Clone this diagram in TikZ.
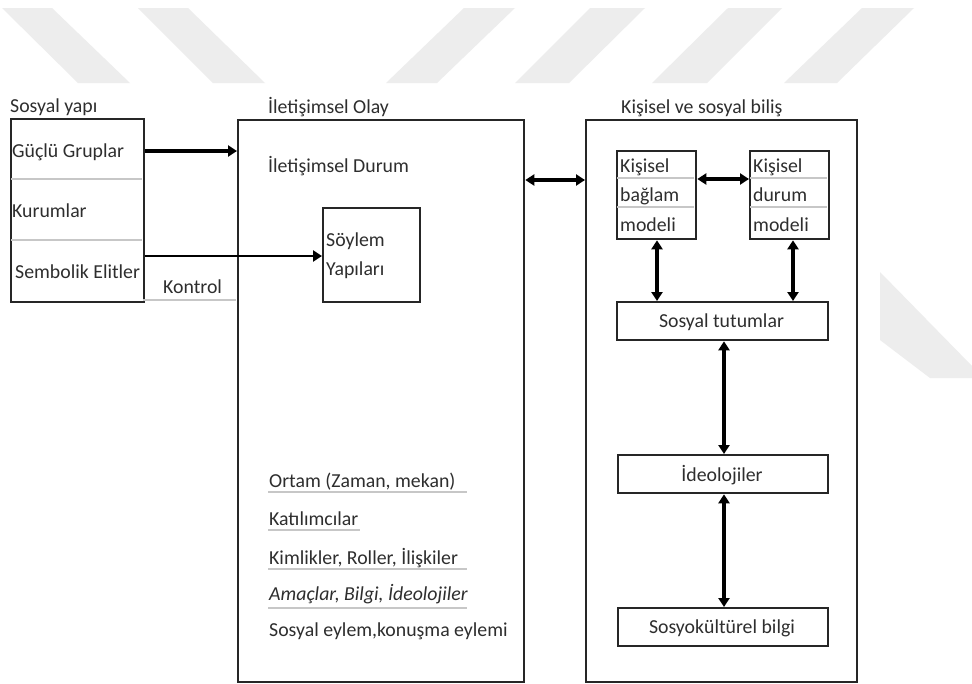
\documentclass[tikz,border=0pt]{standalone}
\usepackage{fontspec}
\setmainfont{Carlito}
\usetikzlibrary{arrows.meta}
\begin{document}
\begin{tikzpicture}[x=1pt,y=-1pt,
  box/.style={draw=black!85, line width=2.3pt, inner sep=0pt, anchor=north west},
  sepline/.style={draw=black!22, line width=1.6pt},
  lbl/.style={inner sep=0pt, anchor=base west, text=black!82, font=\fontsize{19.8}{23}\selectfont},
  clbl/.style={lbl, anchor=base},
  arr/.style={line width=3.4pt, -{Triangle[length=9pt,width=11pt]}},
  darr/.style={line width=3.4pt, {Triangle[length=9pt,width=11pt]}-{Triangle[length=9pt,width=11pt]}},
  wm/.style={fill=black!7, draw=none}]
\useasboundingbox[fill=white] (0,0) rectangle (972,683);
% watermark
\fill[wm] (2,8) -- (52,8) -- (130,83) -- (78,83) -- cycle;
\fill[wm] (138,8) -- (188,8) -- (265,83) -- (213,83) -- cycle;
\fill[wm] (464,8) -- (515,8) -- (437,83) -- (386,83) -- cycle;
\fill[wm] (590,8) -- (645,8) -- (569,83) -- (515,83) -- cycle;
\fill[wm] (728,8) -- (782,8) -- (707,83) -- (652,83) -- cycle;
\fill[wm] (862,8) -- (914,8) -- (837,83) -- (784,83) -- cycle;
\fill[wm] (880,272) -- (972,366) -- (972,378) -- (930,378) -- (880,340) -- cycle;

% left box
\node[box, minimum width=133pt, minimum height=183pt] (sy) at (10,118) {};
\draw[sepline] (11,179) -- (142,179);
\draw[sepline] (11,240) -- (142,240);
\draw[sepline] (143,300) -- (236,300);
\node[lbl] (tsy) at (10,112) {Sosyal yapı};
\node[lbl] (tgg) at (12,157) {Güçlü Gruplar};
\node[lbl] (tku) at (12,217) {Kurumlar};
\node[lbl] (tse) at (15,278) {Sembolik Elitler};
\node[lbl] (tko) at (163,293) {Kontrol};

% middle box
\node[box, minimum width=286pt, minimum height=562pt] (olay) at (237,119) {};
\node[box, minimum width=97pt, minimum height=94pt] (soy) at (322,207) {};
\node[lbl] (tol) at (268,113) {İletişimsel Olay};
\node[lbl] (tdu) at (268,172) {İletişimsel Durum};
\node[lbl] (ts1) at (326,246) {Söylem};
\node[lbl] (ts2) at (326,275) {Yapıları};
\draw[sepline] (268,492) -- (467,492);
\draw[sepline] (268,530) -- (360,530);
\draw[sepline] (268,569) -- (467,569);
\draw[sepline] (268,608) -- (467,608);
\node[lbl] (tor) at (269,487) {Ortam (Zaman, mekan)};
\node[lbl] (tka) at (269,525) {Katılımcılar};
\node[lbl] (tki) at (269,564) {Kimlikler, Roller, İlişkiler};
\node[lbl, font=\fontsize{19.8}{23}\selectfont\itshape] (tam) at (269,600) {Amaçlar, Bilgi, İdeolojiler};
\node[lbl] (tes) at (269,636) {Sosyal eylem,konuşma eylemi};

% right box
\node[box, minimum width=271pt, minimum height=562pt] (bil) at (585,119) {};
\node[lbl] (tbi) at (621,113) {Kişisel ve sosyal biliş};
\node[box, minimum width=79pt, minimum height=88pt] (kb) at (616,150) {};
\node[box, minimum width=79pt, minimum height=88pt] (kd) at (749,150) {};
\draw[sepline] (617,178) -- (694,178);
\draw[sepline] (617,207) -- (694,207);
\draw[sepline] (750,178) -- (827,178);
\draw[sepline] (750,207) -- (827,207);
\node[lbl] (kb1) at (620,172) {Kişisel};
\node[lbl] (kb2) at (620,201) {bağlam};
\node[lbl] (kb3) at (620,231) {modeli};
\node[lbl] (kd1) at (753,172) {Kişisel};
\node[lbl] (kd2) at (753,201) {durum};
\node[lbl] (kd3) at (753,231) {modeli};
\node[box, minimum width=211pt, minimum height=38pt] (st) at (616,301) {};
\node[box, minimum width=210pt, minimum height=38pt] (id) at (617,454) {};
\node[box, minimum width=210pt, minimum height=38pt] (sk) at (617,607) {};
\node[clbl] (tst) at (721.5,327) {Sosyal tutumlar};
\node[clbl] (tid) at (722,481) {İdeolojiler};
\node[clbl] (tsk) at (722,633) {Sosyokültürel bilgi};

% connectors
\coordinate (y1) at (0,151);
\coordinate (y2) at (0,256);
\coordinate (y3) at (0,180);
\coordinate (y4) at (0,179);
\coordinate (x1) at (657,0);
\coordinate (x2) at (793,0);
\coordinate (x3) at (724,0);
\draw[arr] (sy.east |- y1) -- (olay.west |- y1);
\draw[arr, line width=2.6pt] (sy.east |- y2) -- (soy.west |- y2);
\draw[darr] (olay.east |- y3) -- (bil.west |- y3);
\draw[darr] (kb.east |- y4) -- (kd.west |- y4);
\draw[darr] (x1 |- kb.south) -- (x1 |- st.north);
\draw[darr] (x2 |- kd.south) -- (x2 |- st.north);
\draw[darr] (x3 |- st.south) -- (x3 |- id.north);
\draw[darr] (x3 |- id.south) -- (x3 |- sk.north);
\end{tikzpicture}
\end{document}
